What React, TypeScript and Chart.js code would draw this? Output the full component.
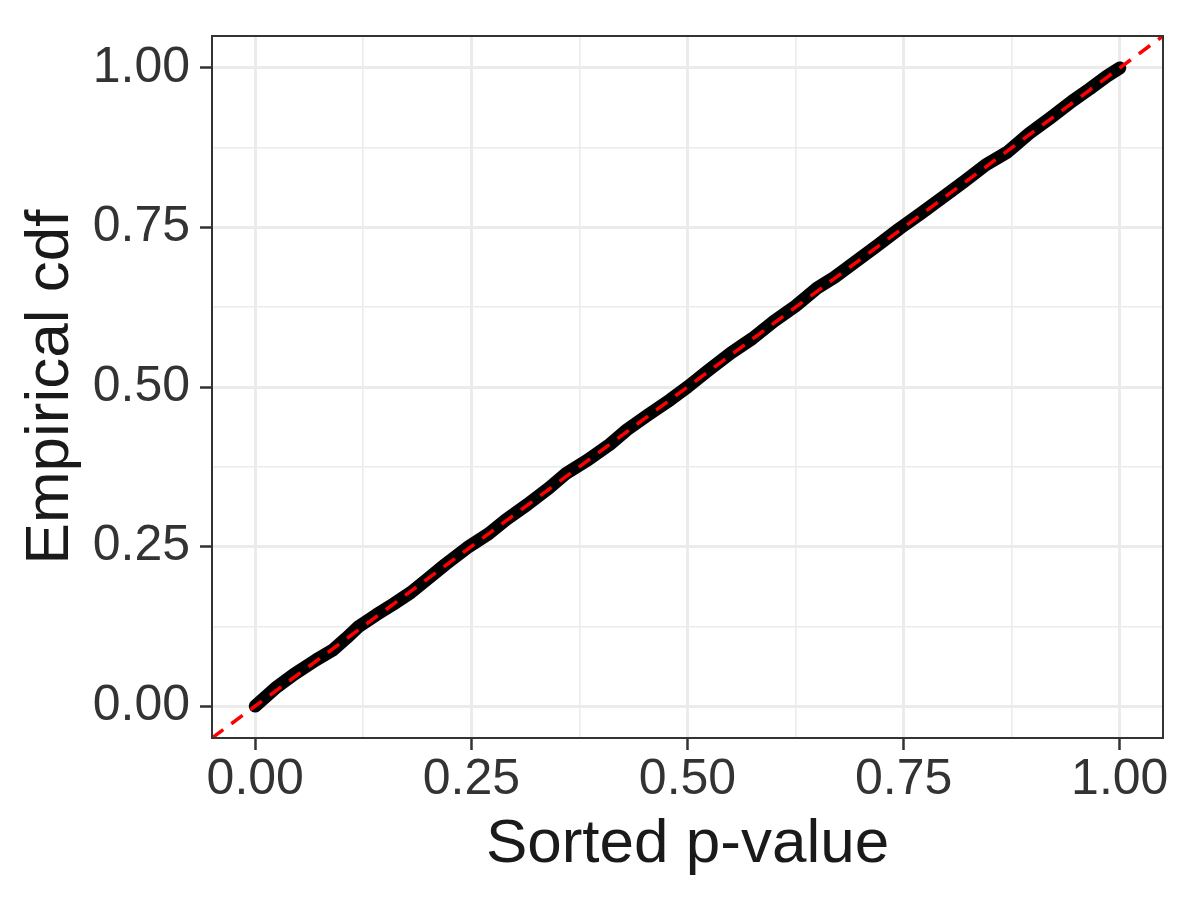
import React, { useEffect, useRef } from "react";
import { Chart, registerables } from "chart.js";

Chart.register(...registerables);

// Sorted p-values (x) and their empirical cdf (y)
const sortedP = [
  0.0, 0.01, 0.025, 0.045, 0.07, 0.09, 0.105, 0.12, 0.14, 0.16, 0.18, 0.2, 0.22, 0.245, 0.27, 0.29,
  0.315, 0.34, 0.36, 0.385, 0.41, 0.43, 0.455, 0.48, 0.5, 0.525, 0.55, 0.575, 0.6, 0.625, 0.65, 0.67,
  0.695, 0.72, 0.745, 0.77, 0.795, 0.82, 0.845, 0.87, 0.895, 0.92, 0.945, 0.965, 0.985, 1.0,
];
const ecdf = [
  0.0, 0.012, 0.03, 0.05, 0.072, 0.088, 0.106, 0.125, 0.143, 0.16, 0.178, 0.2, 0.222, 0.248, 0.27, 0.292,
  0.316, 0.342, 0.365, 0.386, 0.41, 0.433, 0.457, 0.48, 0.5, 0.527, 0.553, 0.576, 0.603, 0.627, 0.655, 0.672,
  0.697, 0.722, 0.748, 0.772, 0.797, 0.822, 0.848, 0.868, 0.897, 0.922, 0.948, 0.967, 0.987, 1.0,
];

// Reference y = x line end points
const refLine = [-0.05, 1.05];

const majorTicks = [0, 0.25, 0.5, 0.75, 1];
const minorTicks = [0.125, 0.375, 0.625, 0.875];
const axisMin = -0.05;
const axisMax = 1.05;

const xTitle = "Sorted p-value";
const yTitle = "Empirical cdf";

const FONT = "'Liberation Sans', Arial, Helvetica, sans-serif";

const isMajor = (v: number) => majorTicks.some((m) => Math.abs(m - v) < 1e-9);

const panelBorder = {
  id: "panelBorder",
  afterDatasetsDraw(chart: any) {
    const { ctx, chartArea } = chart;
    ctx.save();
    ctx.strokeStyle = "#333333";
    ctx.lineWidth = 2;
    ctx.strokeRect(chartArea.left, chartArea.top, chartArea.right - chartArea.left, chartArea.bottom - chartArea.top);
    ctx.restore();
  },
};

function axisOptions(title: string, isX: boolean) {
  return {
    type: "linear" as const,
    min: axisMin,
    max: axisMax,
    afterBuildTicks: (scale: any) => {
      scale.ticks = [...majorTicks, ...minorTicks].sort((a, b) => a - b).map((v) => ({ value: v }));
    },
    afterFit: (scale: any) => {
      if (isX) {
        scale.height = 162;
        scale.paddingLeft = 0;
        scale.paddingRight = 0;
      } else {
        scale.width = 212;
        scale.paddingTop = 0;
        scale.paddingBottom = 0;
      }
    },
    border: { display: false },
    grid: {
      color: "#EBEBEB",
      lineWidth: (c: any) => (c.tick && isMajor(c.tick.value) ? 3 : 1.6),
      drawTicks: true,
      tickLength: 12,
      tickWidth: 2.5,
      tickColor: (c: any) => (c.tick && isMajor(c.tick.value) ? "#333333" : "rgba(0,0,0,0)"),
    },
    ticks: {
      autoSkip: false,
      maxRotation: 0,
      padding: isX ? 0 : 10,
      color: "#333333",
      font: { family: FONT, size: 50 },
      callback: (v: any) => (isMajor(Number(v)) ? Number(v).toFixed(2) : ""),
    },
    title: {
      display: true,
      text: title,
      color: "#1A1A1A",
      font: { family: FONT, size: 62 },
      padding: isX ? { top: 0, bottom: 18 } : { top: 14, bottom: 0 },
    },
  };
}

export default function App() {
  const canvasRef = useRef<HTMLCanvasElement | null>(null);

  useEffect(() => {
    if (!canvasRef.current) return;
    const chart = new Chart(canvasRef.current, {
      type: "scatter",
      data: {
        datasets: [
          {
            label: "y = x",
            data: refLine.map((v) => ({ x: v, y: v })),
            showLine: true,
            borderColor: "#FF0000",
            borderWidth: 3.5,
            borderDash: [14, 10],
            pointRadius: 0,
          },
          {
            label: "ecdf",
            data: sortedP.map((p, i) => ({ x: p, y: ecdf[i] })),
            showLine: true,
            borderColor: "#000000",
            backgroundColor: "#000000",
            borderWidth: 13,
            borderCapStyle: "round",
            borderJoinStyle: "round",
            pointRadius: 0,
            tension: 0,
          },
        ],
      },
      options: {
        animation: false,
        responsive: false,
        devicePixelRatio: 1,
        layout: { padding: { top: 36, right: 37, left: 0, bottom: 0 } },
        plugins: { legend: { display: false }, tooltip: { enabled: false } },
        scales: {
          x: axisOptions(xTitle, true),
          y: axisOptions(yTitle, false),
        },
      } as any,
      plugins: [panelBorder],
    });
    return () => chart.destroy();
  }, []);

  return (
    <div style={{ position: "absolute", left: 0, top: 0, width: 1200, height: 900, background: "#FFFFFF" }}>
      <canvas ref={canvasRef} width={1200} height={900} />
    </div>
  );
}
